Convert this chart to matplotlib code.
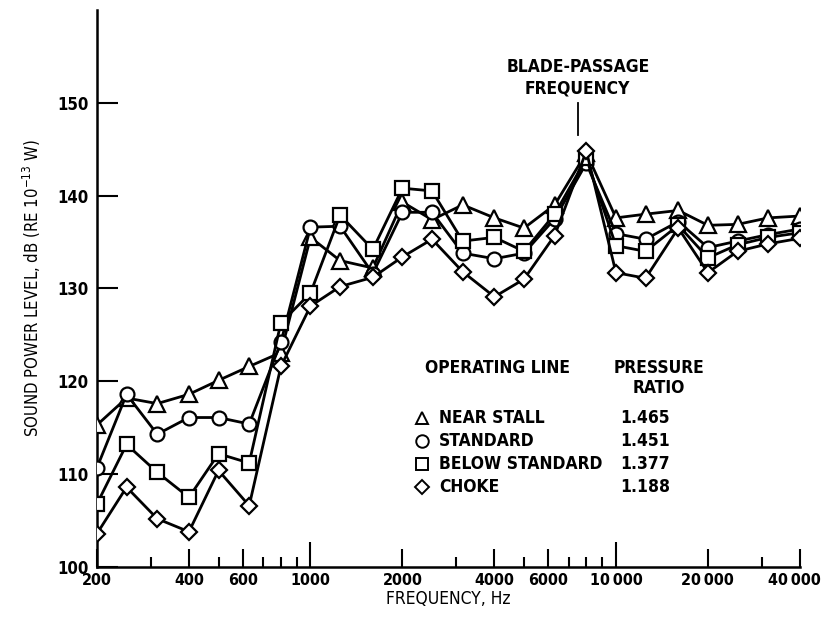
import matplotlib
matplotlib.use("Agg")
import matplotlib.pyplot as plt
import matplotlib.transforms as mtransforms
from matplotlib.ticker import FixedLocator, NullFormatter

plt.rcParams['font.family'] = ['DejaVu Sans']
plt.rcParams['font.stretch'] = 'condensed'
plt.rcParams['font.weight'] = 'bold'
plt.rcParams['mathtext.default'] = 'regular'

# one-third octave band centre frequencies, Hz
freq = [200, 250, 315, 400, 500, 630, 800, 1000, 1250, 1600, 2000, 2500,
        3150, 4000, 5000, 6300, 8000, 10000, 12500, 16000, 20000, 25000,
        31500, 40000]

# sound power level, dB re 1e-13 W
near_stall = [115.3, 118.2, 117.6, 118.6, 120.1, 121.6, 123.1, 135.5, 133.0,
              132.2, 139.3, 137.4, 139.0, 137.6, 136.5, 139.0, 144.6, 137.6,
              138.0, 138.4, 136.8, 136.9, 137.6, 137.8]
standard = [110.7, 118.6, 114.3, 116.1, 116.1, 115.4, 124.2, 136.6, 136.7,
            131.6, 138.2, 138.2, 133.8, 133.2, 133.8, 137.5, 143.5, 135.9,
            135.3, 137.2, 134.4, 135.1, 135.8, 136.4]
below_standard = [106.8, 113.2, 110.2, 107.5, 112.2, 111.2, 126.3, 129.5,
                  137.9, 134.2, 140.8, 140.5, 135.1, 135.5, 134.0, 138.0,
                  144.0, 134.6, 134.0, 136.8, 133.3, 134.7, 135.5, 136.0]
choke = [103.6, 108.6, 105.2, 103.8, 110.4, 106.6, 121.6, 128.1, 130.2,
         131.2, 133.4, 135.3, 131.8, 129.1, 131.0, 135.7, 144.8, 131.7,
         131.1, 136.5, 131.7, 134.0, 134.8, 135.4]

op_lines = ['NEAR STALL', 'STANDARD', 'BELOW STANDARD', 'CHOKE']
ratios = ['1.465', '1.451', '1.377', '1.188']
series = [near_stall, standard, below_standard, choke]
markers = ['^', 'o', 's', 'D']
msizes = [11, 10, 10, 8]

major_x = [200, 400, 600, 1000, 2000, 4000, 6000, 10000, 20000, 40000]
major_lbl = ['200', '400', '600', '1000', '2000', '4000', '6000',
             '10\u2009000', '20\u2009000', '40\u2009000']
minor_x = [300, 500, 700, 800, 900, 3000, 5000, 7000, 8000, 9000, 30000]

fig = plt.figure(figsize=(8.24, 6.17), dpi=100)
ax = fig.add_axes([0.1177, 0.081, 0.853, 0.903])

for vals, m, ms in zip(series, markers, msizes):
    ax.plot(freq, vals, color='black', lw=2.0, marker=m, ms=ms,
            mfc='white', mec='black', mew=1.6, zorder=3)

ax.set_xscale('log')
ax.set_xlim(200, 40000)
ax.set_ylim(100, 160)

ax.xaxis.set_major_locator(FixedLocator(major_x))
ax.set_xticklabels(major_lbl)
ax.xaxis.set_minor_locator(FixedLocator(minor_x))
ax.xaxis.set_minor_formatter(NullFormatter())
ax.tick_params(axis='x', which='major', direction='in', length=13, width=1.5,
               labelsize=11.5, pad=4)
ax.tick_params(axis='x', which='minor', direction='in', length=7, width=1.5)
for t in ax.xaxis.get_major_ticks():
    if t.get_loc() in (1000, 10000):
        t.tick1line.set_markersize(18)

# nudge the last label so it stays on the page
last = ax.get_xticklabels()[-1]
last.set_transform(last.get_transform() +
                   mtransforms.ScaledTranslation(-5 / 100, 0, fig.dpi_scale_trans))

ax.set_yticks([100, 110, 120, 130, 140, 150])
ax.tick_params(axis='y', direction='in', length=15, width=1.5, labelsize=12,
               pad=6)

for s in ['top', 'right']:
    ax.spines[s].set_visible(False)
for s in ['left', 'bottom']:
    ax.spines[s].set_linewidth(1.8)

ax.set_xlabel('FREQUENCY, Hz', fontsize=12.5, labelpad=2)
ax.set_ylabel('SOUND POWER LEVEL, dB (RE 10$^{-13}$ W)', fontsize=12,
              fontweight='normal', labelpad=10)

# blade-passage marker
ax.text(7500, 153.9, 'BLADE-PASSAGE', ha='center', va='center', fontsize=12.5)
ax.text(7500, 151.5, 'FREQUENCY', ha='center', va='center', fontsize=12.5)
ax.plot([7500, 7500], [146.5, 150.0], color='black', lw=1.3)

# legend block
ax.text(0.466, 0.358, 'OPERATING LINE', transform=ax.transAxes,
        ha='left', va='center', fontsize=12.5)
ax.text(0.80, 0.358, 'PRESSURE', transform=ax.transAxes,
        ha='center', va='center', fontsize=12.5)
ax.text(0.80, 0.322, 'RATIO', transform=ax.transAxes,
        ha='center', va='center', fontsize=12.5)
rows_y = [0.267, 0.226, 0.185, 0.143]
for yy, m, name, r in zip(rows_y, markers, op_lines, ratios):
    ax.plot([0.462], [yy], transform=ax.transAxes, marker=m,
            ms=9 if m != 'D' else 7.5, mfc='white', mec='black', mew=1.4,
            ls='none', clip_on=False)
    ax.text(0.487, yy, name, transform=ax.transAxes, ha='left',
            va='center', fontsize=12.5)
    ax.text(0.78, yy, r, transform=ax.transAxes, ha='center',
            va='center', fontsize=12.5)

fig.savefig('out.png', dpi=100)
